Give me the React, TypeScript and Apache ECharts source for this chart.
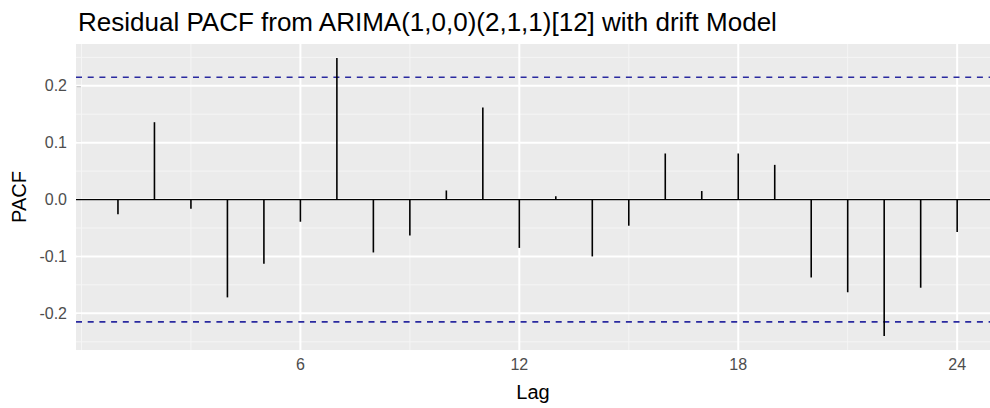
import React, { useEffect, useRef } from "react";
import * as echarts from "echarts";

const titleText = "Residual PACF from ARIMA(1,0,0)(2,1,1)[12] with drift Model";
const lags = [1, 2, 3, 4, 5, 6, 7, 8, 9, 10, 11, 12, 13, 14, 15, 16, 17, 18, 19, 20, 21, 22, 23, 24];
const pacfValues = [
  -0.026, 0.136, -0.016, -0.172, -0.113, -0.039, 0.249, -0.093, -0.063, 0.016, 0.162, -0.085,
  0.006, -0.1, -0.046, 0.081, 0.015, 0.081, 0.061, -0.137, -0.163, -0.24, -0.155, -0.057,
];
const ciLimits = [-0.215, 0.215];
const yTicks = [-0.2, -0.1, 0, 0.1, 0.2];
const yMinor = [-0.25, -0.15, -0.05, 0.05, 0.15, 0.25];
const xTicks = [6, 12, 18, 24];
const xMinor = [0, 3, 9, 15, 21];

const FONT = "Liberation Sans, Arial, Helvetica, sans-serif";

function hLine(color: string, width: number, dash?: number[]) {
  return (params: any, api: any) => {
    const cs = params.coordSys;
    const y = api.coord([0, api.value(1)])[1];
    return {
      type: "line",
      shape: { x1: cs.x, y1: y, x2: cs.x + cs.width, y2: y },
      style: { stroke: color, lineWidth: width, lineDash: dash },
    };
  };
}

function vLine(color: string, width: number) {
  return (params: any, api: any) => {
    const cs = params.coordSys;
    const x = api.coord([api.value(0), 0])[0];
    return {
      type: "line",
      shape: { x1: x, y1: cs.y, x2: x, y2: cs.y + cs.height },
      style: { stroke: color, lineWidth: width },
    };
  };
}

export default function App() {
  const ref = useRef<HTMLDivElement>(null);
  useEffect(() => {
    if (!ref.current) return;
    const chart = echarts.init(ref.current, undefined, { renderer: "svg" });
    const option: any = {
      animation: false,
      backgroundColor: "#ffffff",
      title: {
        text: titleText,
        left: 73,
        top: 4,
        textStyle: { fontFamily: FONT, fontSize: 26, fontWeight: "normal", color: "#000000" },
      },
      grid: {
        left: 76,
        right: 0,
        top: 44,
        bottom: 58,
        show: true,
        backgroundColor: "#EBEBEB",
        borderWidth: 0,
      },
      xAxis: {
        type: "value",
        min: -0.15,
        max: 24.9,
        axisLine: { show: false },
        splitLine: { show: false },
        axisTick: { show: true, customValues: xTicks, length: 4, lineStyle: { color: "#333333", width: 1.1 } },
        axisLabel: { customValues: xTicks, color: "#4d4d4d", fontSize: 16, fontFamily: FONT, margin: 6 },
        name: "Lag",
        nameLocation: "middle",
        nameGap: 32,
        nameTextStyle: { color: "#000000", fontSize: 20, fontFamily: FONT },
      },
      yAxis: {
        type: "value",
        min: -0.2645,
        max: 0.2735,
        axisLine: { show: false },
        splitLine: { show: false },
        axisTick: { show: true, customValues: yTicks, length: 5, lineStyle: { color: "#333333", width: 1.1 } },
        axisLabel: {
          customValues: yTicks,
          color: "#4d4d4d",
          fontSize: 16,
          fontFamily: FONT,
          margin: 9,
          formatter: (v: number) => v.toFixed(1),
        },
        name: "PACF",
        nameLocation: "middle",
        nameGap: 46,
        nameTextStyle: { color: "#000000", fontSize: 20, fontFamily: FONT },
      },
      series: [
        {
          type: "custom",
          z: 1,
          silent: true,
          renderItem: hLine("#F5F5F5", 1),
          data: yMinor.map((v) => [0, v]),
        },
        {
          type: "custom",
          z: 1,
          silent: true,
          renderItem: vLine("#F5F5F5", 1),
          data: xMinor.map((v) => [v, 0]),
        },
        {
          type: "custom",
          z: 2,
          silent: true,
          renderItem: hLine("#FFFFFF", 2),
          data: yTicks.map((v) => [0, v]),
        },
        {
          type: "custom",
          z: 2,
          silent: true,
          renderItem: vLine("#FFFFFF", 2),
          data: xTicks.map((v) => [v, 0]),
        },
        {
          type: "custom",
          z: 3,
          silent: true,
          renderItem: hLine("#2a2aa0", 1.7, [6, 5.7]),
          data: ciLimits.map((v) => [0, v]),
        },
        {
          type: "custom",
          z: 4,
          silent: true,
          renderItem: hLine("#000000", 1.3),
          data: [[0, 0]],
        },
        {
          type: "custom",
          z: 5,
          silent: true,
          renderItem: (params: any, api: any) => {
            const p0 = api.coord([api.value(0), 0]);
            const p1 = api.coord([api.value(0), api.value(1)]);
            return {
              type: "line",
              shape: { x1: p0[0], y1: p0[1], x2: p1[0], y2: p1[1] },
              style: { stroke: "#000000", lineWidth: 1.6 },
            };
          },
          data: lags.map((l, i) => [l, pacfValues[i]]),
        },
      ],
    };
    chart.setOption(option);
    return () => chart.dispose();
  }, []);
  return (
    <div
      ref={ref}
      style={{ position: "fixed", left: 0, top: 0, width: 990, height: 408, background: "#fff" }}
    />
  );
}
